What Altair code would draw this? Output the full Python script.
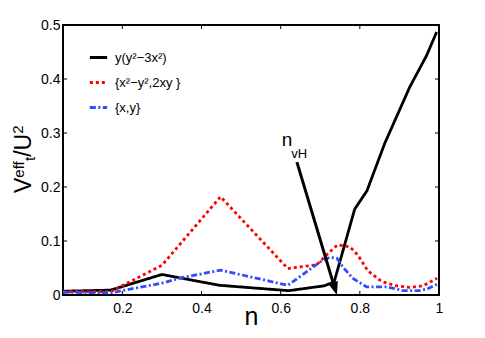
import altair as alt
import pandas as pd

# ---- data ----
n_black = [0.05, 0.17, 0.30, 0.445, 0.62, 0.71, 0.735, 0.787, 0.818, 0.863, 0.926, 0.969, 0.994]
v_black = [0.007, 0.009, 0.038, 0.018, 0.008, 0.017, 0.024, 0.159, 0.193, 0.281, 0.385, 0.444, 0.487]

n_red = [0.05, 0.17, 0.30, 0.448, 0.618, 0.649, 0.691, 0.724, 0.744, 0.775, 0.795, 0.82, 0.855, 0.893, 0.926, 0.96, 0.995]
v_red = [0.006, 0.006, 0.055, 0.182, 0.049, 0.052, 0.056, 0.080, 0.093, 0.089, 0.074, 0.045, 0.025, 0.017, 0.014, 0.017, 0.031]

n_blue = [0.05, 0.17, 0.30, 0.35, 0.448, 0.618, 0.66, 0.699, 0.724, 0.742, 0.757, 0.782, 0.817, 0.868, 0.91, 0.95, 0.97, 0.995]
v_blue = [0.005, 0.004, 0.022, 0.032, 0.046, 0.018, 0.040, 0.061, 0.070, 0.068, 0.052, 0.031, 0.015, 0.015, 0.008, 0.008, 0.011, 0.020]

series_names = ["y(y²−3x²)", "{x²−y²,2xy }", "{x,y}"]
series_colors = ["#000000", "#ff0000", "#2f4dff"]
series_dashes = [[1, 0], [3, 3], [6, 2.5, 2, 2.5]]

x_ticks = [0.2, 0.4, 0.6, 0.8, 1.0]
y_ticks = [0.0, 0.1, 0.2, 0.3, 0.4, 0.5]

# arrow annotation n_vH (data coordinates)
arrow_start = (0.641, 0.246)
arrow_shaft_end = (0.736, 0.014)
arrow_tip = (0.742, 0.0)
label_n = (0.603, 0.276)
label_vH = (0.627, 0.254)

# ---- build tables ----
rows = []
for name, ns, vs in zip(series_names, [n_black, n_red, n_blue], [v_black, v_red, v_blue]):
    for i, (a, b) in enumerate(zip(ns, vs)):
        rows.append({"series": name, "n": a, "v": b, "i": i})
df = pd.DataFrame(rows)

W, H = 376, 270
xscale = alt.Scale(domain=[0.05, 1.0], nice=False, zero=False)
yscale = alt.Scale(domain=[0.0, 0.5], nice=False)

leg = alt.Legend(title=None, orient="none", legendX=25, legendY=22,
                 symbolType="stroke", symbolSize=300, symbolStrokeWidth=3,
                 labelFontSize=13, labelOffset=6, rowPadding=7, padding=0)

lines = alt.Chart(df).mark_line(strokeWidth=2.8, clip=True).encode(
    x=alt.X("n:Q", scale=xscale,
            axis=alt.Axis(values=x_ticks, format="~g", tickSize=0, domain=False, grid=False,
                          labelFlush=False, labelPadding=6, labelFontSize=14,
                          title="n", titleFontSize=25, titleFontWeight="normal",
                          titleBaseline="alphabetic", titleY=29, titleX=W / 2)),
    y=alt.Y("v:Q", scale=yscale,
            axis=alt.Axis(values=y_ticks, format="~g", tickSize=0, domain=False, grid=False,
                          labelPadding=3, labelFontSize=14, title="")),
    color=alt.Color("series:N", scale=alt.Scale(domain=series_names, range=series_colors), legend=leg),
    strokeDash=alt.StrokeDash("series:N", scale=alt.Scale(domain=series_names, range=series_dashes),
                              legend=leg),
    detail="series:N",
    order="i:Q",
)

# inward ticks on all four sides
xt = pd.DataFrame({"t": x_ticks})
yt = pd.DataFrame({"t": y_ticks})
tk = 4
tick_bottom = alt.Chart(xt).mark_rule(color="black", strokeWidth=1).encode(
    x=alt.X("t:Q", scale=xscale), y=alt.value(H), y2=alt.value(H - tk))
tick_top = alt.Chart(xt).mark_rule(color="black", strokeWidth=1).encode(
    x=alt.X("t:Q", scale=xscale), y=alt.value(0), y2=alt.value(tk))
tick_left = alt.Chart(yt).mark_rule(color="black", strokeWidth=1).encode(
    y=alt.Y("t:Q", scale=yscale), x=alt.value(0), x2=alt.value(tk))
tick_right = alt.Chart(yt).mark_rule(color="black", strokeWidth=1).encode(
    y=alt.Y("t:Q", scale=yscale), x=alt.value(W), x2=alt.value(W - tk))

# arrow
adf = pd.DataFrame({"n1": [arrow_start[0]], "v1": [arrow_start[1]],
                    "n2": [arrow_shaft_end[0]], "v2": [arrow_shaft_end[1]]})
shaft = alt.Chart(adf).mark_rule(color="black", strokeWidth=3).encode(
    x=alt.X("n1:Q", scale=xscale), y=alt.Y("v1:Q", scale=yscale),
    x2="n2:Q", y2="v2:Q")
hdf = pd.DataFrame({"n": [arrow_tip[0]], "v": [arrow_tip[1]]})
head = alt.Chart(hdf).mark_point(shape="M0,0 L-0.38,-1 L0.38,-1 Z", filled=True, color="black",
                                 opacity=1, size=700, angle=343).encode(
    x=alt.X("n:Q", scale=xscale), y=alt.Y("v:Q", scale=yscale))

ndf = pd.DataFrame({"n": [label_n[0]], "v": [label_n[1]], "t": ["n"]})
vhdf = pd.DataFrame({"n": [label_vH[0]], "v": [label_vH[1]], "t": ["vH"]})
txt_n = alt.Chart(ndf).mark_text(align="left", baseline="alphabetic", fontSize=19).encode(
    x=alt.X("n:Q", scale=xscale), y=alt.Y("v:Q", scale=yscale), text="t:N")
txt_vh = alt.Chart(vhdf).mark_text(align="left", baseline="alphabetic", fontSize=13).encode(
    x=alt.X("n:Q", scale=xscale), y=alt.Y("v:Q", scale=yscale), text="t:N")

# y-axis title  V^eff_t / U^2  composed of rotated pieces
def piece(s, size, px, py):
    return alt.Chart(pd.DataFrame({"t": [s]})).mark_text(
        angle=270, align="left", baseline="alphabetic", fontSize=size).encode(
        text="t:N", x=alt.value(px), y=alt.value(py))

title_parts = [
    piece("V", 23, -32, 168),
    piece("eff", 15, -39, 152.7),
    piece("t", 15, -28, 136),
    piece("/U", 23, -32, 131.8),
    piece("2", 15, -40, 108.8),
]

chart = alt.layer(
    lines, tick_bottom, tick_top, tick_left, tick_right, shaft, head, txt_n, txt_vh, *title_parts
).properties(
    width=W, height=H,
    autosize=alt.AutoSizeParams(type="none"),
    padding={"left": 55, "top": 17, "right": 38, "bottom": 35},
).configure(
    font="Liberation Sans",
).configure_view(
    stroke="black", strokeWidth=2,
).configure_axis(
    labelColor="black", titleColor="black",
).configure_legend(
    labelColor="black",
)

chart.save("out.html", embed_options={"renderer": "svg", "actions": False})
